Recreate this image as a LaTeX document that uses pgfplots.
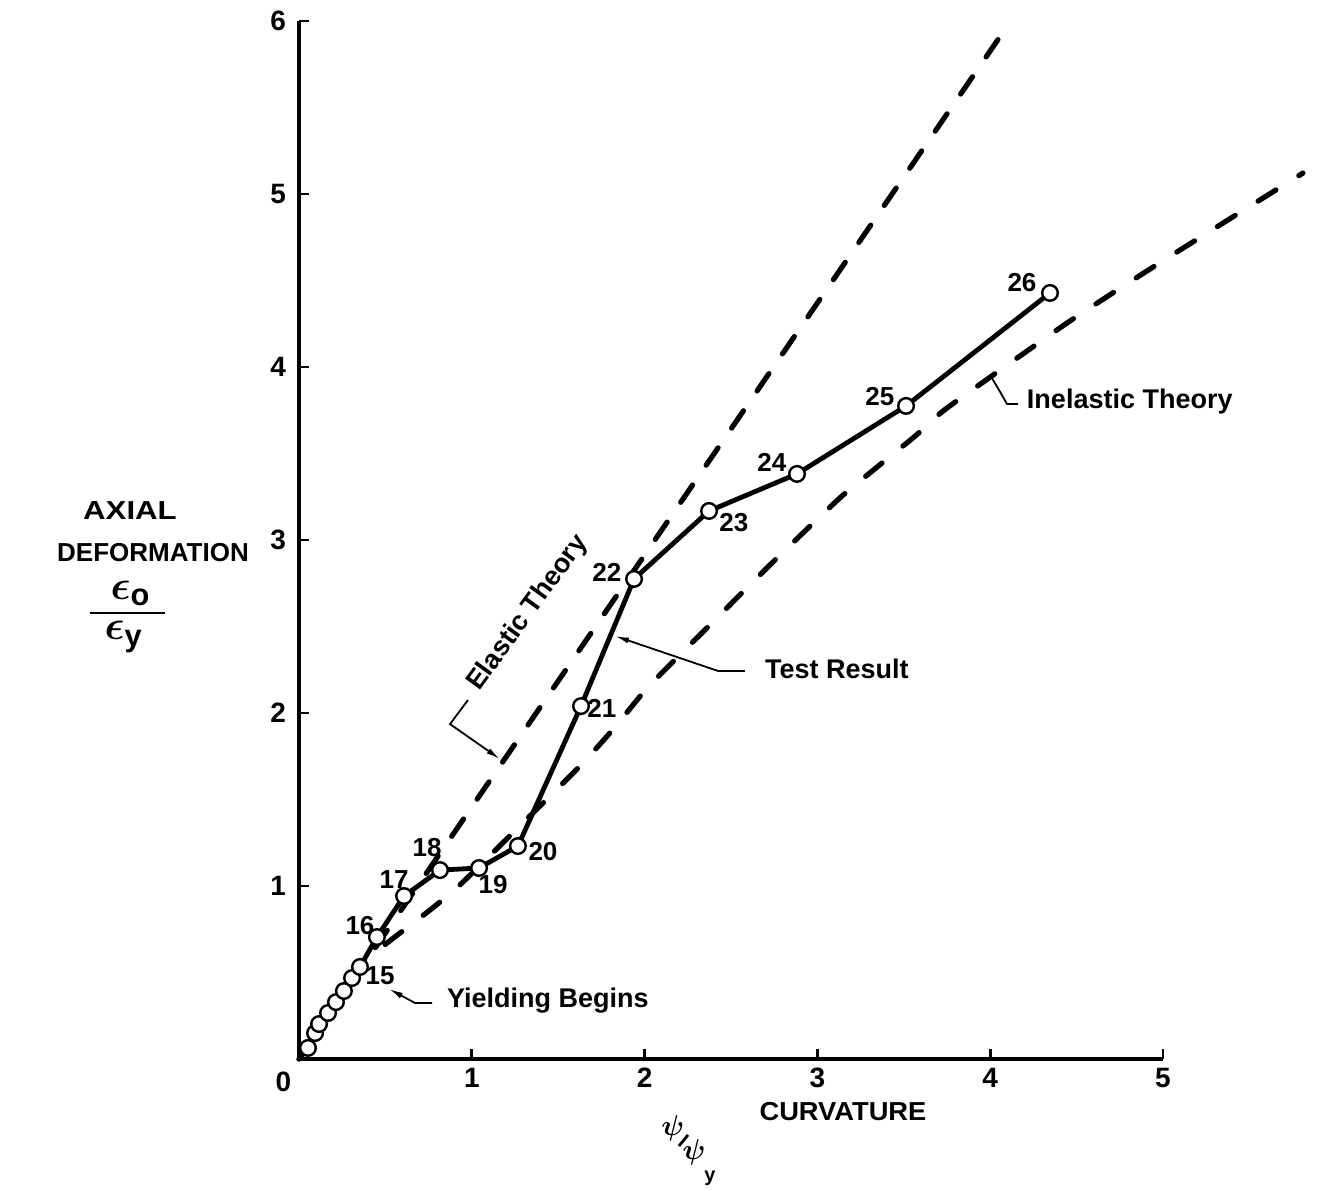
\documentclass[border=0pt]{standalone}
\usepackage{amsmath}
\usepackage{fontspec}
\setmainfont{Liberation Sans}
\usepackage{pgfplots}
\pgfplotsset{compat=1.18}
\usetikzlibrary{arrows.meta}

\pgfplotstableread{
x y
0.052 0.064
0.093 0.150
0.116 0.202
0.168 0.266
0.214 0.329
0.260 0.393
0.307 0.468
0.353 0.532
0.451 0.705
0.608 0.942
0.816 1.092
1.042 1.104
1.267 1.231
1.632 2.040
1.939 2.775
2.373 3.168
2.882 3.382
3.513 3.775
4.346 4.428
}\testdata

\pgfplotstableread{
x y
0.000 0.000
0.353 0.520
0.422 0.601
0.584 0.728
0.758 0.861
0.949 1.023
1.609 1.676
1.829 1.919
2.020 2.150
2.378 2.509
2.743 2.873
3.142 3.254
3.559 3.595
3.750 3.763
4.444 4.254
4.907 4.555
5.347 4.832
5.810 5.121
}\inelastic

\pgfplotstableread{
x y
0.000 0.000
4.103 5.977
}\elastic

\begin{document}
\begin{tikzpicture}
\begin{axis}[
  at={(0,0)}, anchor=south west,
  scale only axis, width=432pt, height=519pt,
  xmin=0, xmax=5, ymin=0, ymax=6,
  axis lines=left,
  axis line style={line width=1.6pt, -},
  xtick={1,2,3,4,5}, ytick={1,2,3,4,5,6},
  tick style={line width=1.4pt, black},
  major tick length=5pt,
  tick align=inside,
  tick label style={font=\fontsize{14}{16}\selectfont\bfseries},
  xticklabel style={yshift=-1pt},
  yticklabel style={xshift=-3pt},
  /pgf/number format/assume math mode=true,
  clip=false,
]
% theory lines
\addplot[black, line width=2.6pt, line cap=round, dash pattern=on 10.5pt off 12pt] table[x=x,y=y] {\elastic};
\addplot[black, line width=2.6pt, line cap=round, dash pattern=on 10.5pt off 13.5pt, smooth, tension=0.3] table[x=x,y=y] {\inelastic};
% test result
\addplot[black, line width=2.4pt, mark=*, mark size=3.9pt,
  mark options={fill=white, draw=black, line width=1.2pt}] table[x=x,y=y] {\testdata};

% point labels
\begin{scope}[font=\fontsize{13}{15}\selectfont\bfseries]
\node at (axis cs:0.469,0.480) {15};
\node at (axis cs:0.353,0.769) {16};
\node at (axis cs:0.550,1.035) {17};
\node at (axis cs:0.741,1.220) {18};
\node at (axis cs:1.123,1.006) {19};
\node at (axis cs:1.412,1.197) {20};
\node at (axis cs:1.753,2.029) {21};
\node at (axis cs:1.782,2.815) {22};
\node at (axis cs:2.517,3.098) {23};
\node at (axis cs:2.737,3.451) {24};
\node at (axis cs:3.362,3.827) {25};
\node at (axis cs:4.184,4.491) {26};
\end{scope}
\node[font=\fontsize{14}{16}\selectfont\bfseries] at (axis cs:-0.09,-0.13) {0};

% annotations
\begin{scope}[font=\fontsize{13.5}{15}\selectfont\bfseries]
\node[anchor=west] at (axis cs:2.656,2.254) {Test Result};
\node[anchor=west] at (axis cs:0.816,0.335) {Yielding Begins};
\node[anchor=west] at (axis cs:4.172,3.803) {Inelastic Theory};
\node[rotate=54] at (axis cs:1.325,2.578) {Elastic Theory};
\end{scope}

\draw[line width=0.9pt, -{Latex[length=7pt,width=3pt]}] (axis cs:0.978,2.075) -- (axis cs:0.874,1.936) -- (axis cs:1.163,1.734);
\draw[line width=0.9pt, -{Latex[length=7pt,width=3pt]}] (axis cs:2.581,2.243) -- (axis cs:2.425,2.243) -- (axis cs:1.829,2.445);
\draw[line width=0.9pt, -{Latex[length=7pt,width=3pt]}] (axis cs:0.770,0.324) -- (axis cs:0.671,0.324) -- (axis cs:0.521,0.405);
\draw[line width=0.9pt] (axis cs:4.161,3.786) -- (axis cs:4.097,3.786) -- (axis cs:4.068,3.838) -- (axis cs:4.010,3.936);

% axis labels
\begin{scope}[font=\fontsize{13}{15}\selectfont\bfseries]
\node[xscale=1.2] at (axis cs:-0.978,3.17) {AXIAL};
\node at (axis cs:-0.845,2.925) {DEFORMATION};
\node[xscale=1.05] at (axis cs:3.148,-0.306) {CURVATURE};
\end{scope}
\node[font=\fontsize{22}{24}\selectfont] at (axis cs:-0.975,2.690) {$\boldsymbol{\epsilon}_{\textbf{o}}$};
\draw[line width=1.3pt] (axis cs:-1.209,2.578) -- (axis cs:-0.775,2.578);
\node[font=\fontsize{22}{24}\selectfont] at (axis cs:-1.015,2.440) {$\boldsymbol{\epsilon}_{\textbf{y}}$};
\node[font=\fontsize{14}{16}\selectfont] at (axis cs:2.164,-0.399) {$\boldsymbol{\psi}$};
\draw[line width=1.4pt] (axis cs:2.199,-0.503) -- (axis cs:2.251,-0.439);
\node[font=\fontsize{14}{16}\selectfont] at (axis cs:2.286,-0.538) {$\boldsymbol{\psi}$};
\node[font=\fontsize{10}{12}\selectfont\bfseries] at (axis cs:2.378,-0.690) {y};
\end{axis}
\pgfresetboundingbox
\path[use as bounding box] (-149.5pt,-65.5pt) rectangle (509.5pt,529.5pt);
\end{tikzpicture}
\end{document}
